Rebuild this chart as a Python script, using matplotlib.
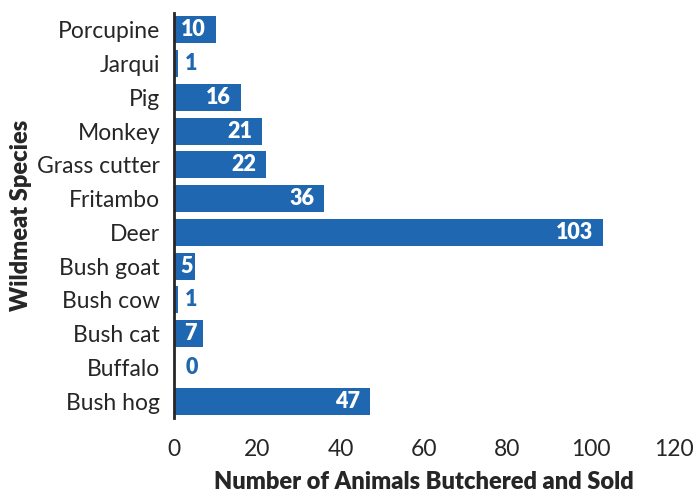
import matplotlib
matplotlib.use("Agg")
import matplotlib.pyplot as plt

plt.rcParams['font.family'] = ['Lato', 'DejaVu Sans']

# data, top to bottom as shown
species = ['Porcupine', 'Jarqui', 'Pig', 'Monkey', 'Grass cutter', 'Fritambo',
           'Deer', 'Bush goat', 'Bush cow', 'Bush cat', 'Buffalo', 'Bush hog']
counts = [10, 1, 16, 21, 22, 36, 103, 5, 1, 7, 0, 47]
xticks = [0, 20, 40, 60, 80, 100, 120]

blue = '#1f68b1'
dark = '#262626'

fig = plt.figure(figsize=(6.95, 4.95), dpi=100)
ax = fig.add_axes([0.2504, 0.1556, 0.7194, 0.818])

ypos = list(range(len(species)))
ax.barh(ypos, counts, height=0.8, color=blue)

for y, v in zip(ypos, counts):
    if v >= 10:
        ax.annotate(str(v), (v, y), xytext=(-7, 0), textcoords='offset points',
                    ha='right', va='center', color='white', fontsize=15.5, fontweight='heavy')
    elif v >= 5:
        ax.text(v / 2 + 0.4, y, str(v), ha='center', va='center',
                color='white', fontsize=15.5, fontweight='heavy')
    else:
        ax.annotate(str(v), (v, y), xytext=(8 - 3 * v, 0), textcoords='offset points',
                    ha='left', va='center', color=blue, fontsize=15.5, fontweight='heavy')

ax.set_yticks(ypos)
ax.set_yticklabels(species)
ax.set_ylim(11.5, -0.5)
ax.set_xlim(0, 120)
ax.set_xticks(xticks)

for s in ['top', 'right', 'bottom']:
    ax.spines[s].set_visible(False)
ax.spines['left'].set_color(dark)
ax.spines['left'].set_linewidth(2)

ax.tick_params(axis='both', length=0, labelsize=16.5, colors=dark)
ax.tick_params(axis='y', pad=10)
ax.tick_params(axis='x', pad=15)

ax.set_xlabel('Number of Animals Butchered and Sold', fontsize=17,
              fontweight='heavy', color=dark, labelpad=8)
ax.set_ylabel('Wildmeat Species', fontsize=17, fontweight='heavy', color=dark, labelpad=4)

fig.savefig('out.png', dpi=100)
